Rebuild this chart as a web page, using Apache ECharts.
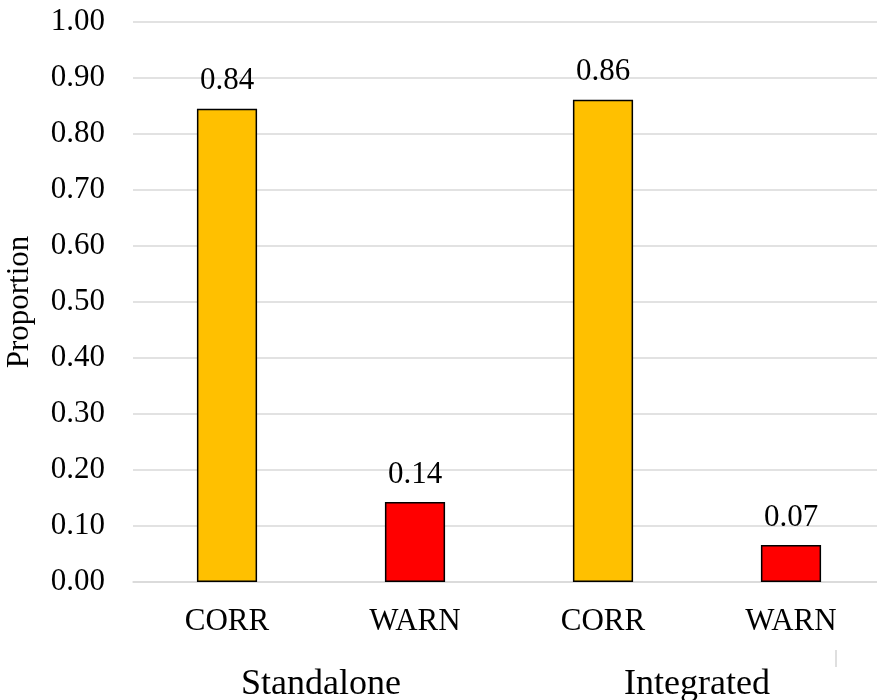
<!DOCTYPE html>
<html>
<head>
<meta charset="utf-8">
<script src="https://cdn.jsdelivr.net/npm/echarts@6/dist/echarts.min.js"></script>
<style>
html,body{margin:0;padding:0;background:#fff;}
#chart{width:877px;height:700px;}
</style>
</head>
<body>
<div id="chart"></div>
<script>
var categories = ["CORR", "WARN", "CORR", "WARN"];
var groups = ["Standalone", "Integrated"];
var values = [0.845, 0.143, 0.861, 0.066];
var barColors = ["#FFC000", "#FF0000", "#FFC000", "#FF0000"];
var yTicks = [0, 1, 0.1];

var FONT = "Liberation Serif";
var chart = echarts.init(document.getElementById('chart'));
var data = values.map(function (v, i) {
  return { value: v, itemStyle: { color: barColors[i] } };
});
chart.setOption({
  animation: false,
  backgroundColor: '#ffffff',
  grid: { left: 133, width: 752, top: 22, bottom: 118, containLabel: false, outerBoundsMode: 'none' },
  xAxis: [
    {
      type: 'category',
      data: categories,
      axisLine: { show: true, lineStyle: { color: '#d9d9d9', width: 1.5 } },
      axisTick: { show: false },
      axisLabel: { fontFamily: FONT, fontSize: 31, color: '#000', margin: 24 }
    },
    {
      type: 'category',
      data: groups,
      position: 'bottom',
      axisLine: { show: false },
      axisTick: { show: false },
      axisLabel: { fontFamily: FONT, fontSize: 36, color: '#000', margin: 85 }
    }
  ],
  yAxis: {
    type: 'value',
    min: yTicks[0],
    max: yTicks[1],
    interval: yTicks[2],
    name: 'Proportion',
    nameLocation: 'middle',
    nameRotate: 90,
    nameGap: 98,
    nameTextStyle: { fontFamily: FONT, fontSize: 31, color: '#000' },
    axisLine: { show: false },
    axisTick: { show: false },
    axisLabel: {
      fontFamily: FONT, fontSize: 31, color: '#000', margin: 28,
      formatter: function (v) { return v.toFixed(2); }
    },
    splitLine: { show: true, lineStyle: { color: '#d9d9d9', width: 1.5 } }
  },
  series: [{
    type: 'bar',
    xAxisIndex: 0,
    data: data,
    barWidth: '32%',
    itemStyle: { borderColor: '#000', borderWidth: 1.5 },
    label: {
      show: true,
      position: 'top',
      distance: 12,
      fontFamily: FONT,
      fontSize: 31,
      color: '#000',
      formatter: function (p) { return p.value.toFixed(2); }
    }
  }],
  graphic: [{
    type: 'line',
    shape: { x1: 836, y1: 650, x2: 836, y2: 667 },
    style: { stroke: '#bfbfbf', lineWidth: 1 }
  }]
});
</script>
</body>
</html>
